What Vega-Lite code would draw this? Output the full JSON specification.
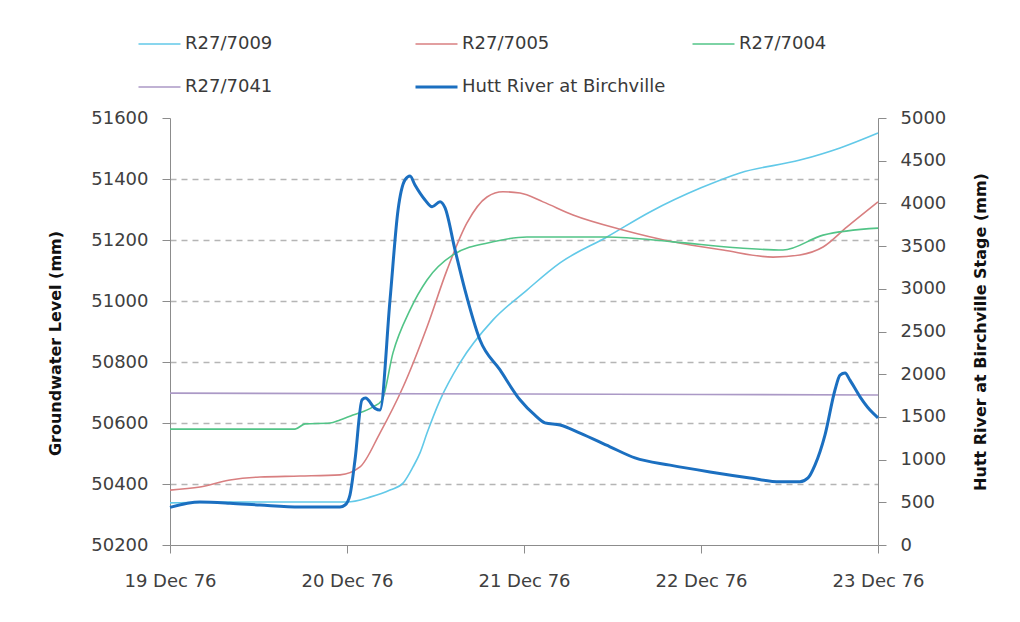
{
  "$schema": "https://vega.github.io/schema/vega-lite/v6.json",
  "width": 708,
  "height": 427,
  "autosize": {"type": "none"},
  "padding": {"left": 170, "top": 118, "right": 142, "bottom": 77},
  "background": "white",
  "config": {
    "view": {"stroke": null},
    "font": "DejaVu Sans",
    "axis": {
      "labelFont": "DejaVu Sans",
      "labelFontSize": 18,
      "labelColor": "#404040",
      "titleFont": "DejaVu Sans",
      "titleFontSize": 16,
      "titleFontWeight": "bold",
      "titleColor": "#111111",
      "domainColor": "#8c8c8c",
      "tickColor": "#8c8c8c",
      "tickSize": 8
    }
  },
  "datasets": {
    "gw": [
      {"s": "R27/7009", "t": "1976-12-19T00:00", "v": 50338},
      {"s": "R27/7009", "t": "1976-12-19T08:08", "v": 50341},
      {"s": "R27/7009", "t": "1976-12-19T17:38", "v": 50341},
      {"s": "R27/7009", "t": "1976-12-20T00:00", "v": 50341},
      {"s": "R27/7009", "t": "1976-12-20T03:07", "v": 50357},
      {"s": "R27/7009", "t": "1976-12-20T05:50", "v": 50380},
      {"s": "R27/7009", "t": "1976-12-20T07:36", "v": 50403},
      {"s": "R27/7009", "t": "1976-12-20T08:57", "v": 50456},
      {"s": "R27/7009", "t": "1976-12-20T09:54", "v": 50502},
      {"s": "R27/7009", "t": "1976-12-20T10:51", "v": 50567},
      {"s": "R27/7009", "t": "1976-12-20T12:37", "v": 50675},
      {"s": "R27/7009", "t": "1976-12-20T15:19", "v": 50797},
      {"s": "R27/7009", "t": "1976-12-20T19:48", "v": 50938},
      {"s": "R27/7009", "t": "1976-12-21T00:24", "v": 51036},
      {"s": "R27/7009", "t": "1976-12-21T04:53", "v": 51125},
      {"s": "R27/7009", "t": "1976-12-21T11:15", "v": 51210},
      {"s": "R27/7009", "t": "1976-12-21T17:05", "v": 51292},
      {"s": "R27/7009", "t": "1976-12-22T00:00", "v": 51371},
      {"s": "R27/7009", "t": "1976-12-22T05:17", "v": 51420},
      {"s": "R27/7009", "t": "1976-12-22T13:25", "v": 51462},
      {"s": "R27/7009", "t": "1976-12-22T18:51", "v": 51502},
      {"s": "R27/7009", "t": "1976-12-23T00:00", "v": 51551},

      {"s": "R27/7005", "t": "1976-12-19T00:00", "v": 50380},
      {"s": "R27/7005", "t": "1976-12-19T04:04", "v": 50390},
      {"s": "R27/7005", "t": "1976-12-19T08:08", "v": 50413},
      {"s": "R27/7005", "t": "1976-12-19T12:12", "v": 50423},
      {"s": "R27/7005", "t": "1976-12-19T17:38", "v": 50426},
      {"s": "R27/7005", "t": "1976-12-19T23:03", "v": 50430},
      {"s": "R27/7005", "t": "1976-12-20T01:46", "v": 50456},
      {"s": "R27/7005", "t": "1976-12-20T04:28", "v": 50567},
      {"s": "R27/7005", "t": "1976-12-20T07:36", "v": 50718},
      {"s": "R27/7005", "t": "1976-12-20T10:51", "v": 50915},
      {"s": "R27/7005", "t": "1976-12-20T13:34", "v": 51102},
      {"s": "R27/7005", "t": "1976-12-20T16:16", "v": 51256},
      {"s": "R27/7005", "t": "1976-12-20T18:59", "v": 51341},
      {"s": "R27/7005", "t": "1976-12-20T21:09", "v": 51358},
      {"s": "R27/7005", "t": "1976-12-20T23:27", "v": 51354},
      {"s": "R27/7005", "t": "1976-12-21T02:35", "v": 51325},
      {"s": "R27/7005", "t": "1976-12-21T06:39", "v": 51282},
      {"s": "R27/7005", "t": "1976-12-21T13:25", "v": 51233},
      {"s": "R27/7005", "t": "1976-12-21T20:12", "v": 51194},
      {"s": "R27/7005", "t": "1976-12-22T02:59", "v": 51167},
      {"s": "R27/7005", "t": "1976-12-22T09:46", "v": 51144},
      {"s": "R27/7005", "t": "1976-12-22T13:25", "v": 51151},
      {"s": "R27/7005", "t": "1976-12-22T16:33", "v": 51177},
      {"s": "R27/7005", "t": "1976-12-22T19:48", "v": 51243},
      {"s": "R27/7005", "t": "1976-12-23T00:00", "v": 51325},

      {"s": "R27/7004", "t": "1976-12-19T00:00", "v": 50580},
      {"s": "R27/7004", "t": "1976-12-19T16:57", "v": 50580},
      {"s": "R27/7004", "t": "1976-12-19T18:18", "v": 50597},
      {"s": "R27/7004", "t": "1976-12-19T21:42", "v": 50600},
      {"s": "R27/7004", "t": "1976-12-19T23:03", "v": 50610},
      {"s": "R27/7004", "t": "1976-12-20T00:49", "v": 50626},
      {"s": "R27/7004", "t": "1976-12-20T03:32", "v": 50653},
      {"s": "R27/7004", "t": "1976-12-20T04:45", "v": 50675},
      {"s": "R27/7004", "t": "1976-12-20T06:14", "v": 50830},
      {"s": "R27/7004", "t": "1976-12-20T08:33", "v": 50971},
      {"s": "R27/7004", "t": "1976-12-20T10:51", "v": 51069},
      {"s": "R27/7004", "t": "1976-12-20T14:22", "v": 51151},
      {"s": "R27/7004", "t": "1976-12-20T19:48", "v": 51194},
      {"s": "R27/7004", "t": "1976-12-21T00:24", "v": 51210},
      {"s": "R27/7004", "t": "1976-12-21T11:15", "v": 51210},
      {"s": "R27/7004", "t": "1976-12-21T20:12", "v": 51194},
      {"s": "R27/7004", "t": "1976-12-22T05:17", "v": 51174},
      {"s": "R27/7004", "t": "1976-12-22T11:07", "v": 51167},
      {"s": "R27/7004", "t": "1976-12-22T16:33", "v": 51216},
      {"s": "R27/7004", "t": "1976-12-23T00:00", "v": 51239},

      {"s": "R27/7041", "t": "1976-12-19T00:00", "v": 50698},
      {"s": "R27/7041", "t": "1976-12-21T00:00", "v": 50695},
      {"s": "R27/7041", "t": "1976-12-23T00:00", "v": 50692}
    ],
    "hutt": [
      {"s": "Hutt River at Birchville", "t": "1976-12-19T00:00", "v": 440},
      {"s": "Hutt River at Birchville", "t": "1976-12-19T04:04", "v": 503},
      {"s": "Hutt River at Birchville", "t": "1976-12-19T08:08", "v": 490},
      {"s": "Hutt River at Birchville", "t": "1976-12-19T12:12", "v": 468},
      {"s": "Hutt River at Birchville", "t": "1976-12-19T17:38", "v": 445},
      {"s": "Hutt River at Birchville", "t": "1976-12-19T23:03", "v": 445},
      {"s": "Hutt River at Birchville", "t": "1976-12-19T23:44", "v": 468},
      {"s": "Hutt River at Birchville", "t": "1976-12-20T00:24", "v": 585},
      {"s": "Hutt River at Birchville", "t": "1976-12-20T01:05", "v": 995},
      {"s": "Hutt River at Birchville", "t": "1976-12-20T02:02", "v": 1700},
      {"s": "Hutt River at Birchville", "t": "1976-12-20T02:30", "v": 1720},
      {"s": "Hutt River at Birchville", "t": "1976-12-20T03:48", "v": 1600},
      {"s": "Hutt River at Birchville", "t": "1976-12-20T04:28", "v": 1580},
      {"s": "Hutt River at Birchville", "t": "1976-12-20T05:50", "v": 2870},
      {"s": "Hutt River at Birchville", "t": "1976-12-20T06:55", "v": 3920},
      {"s": "Hutt River at Birchville", "t": "1976-12-20T07:52", "v": 4275},
      {"s": "Hutt River at Birchville", "t": "1976-12-20T08:33", "v": 4320},
      {"s": "Hutt River at Birchville", "t": "1976-12-20T09:13", "v": 4215},
      {"s": "Hutt River at Birchville", "t": "1976-12-20T10:35", "v": 4040},
      {"s": "Hutt River at Birchville", "t": "1976-12-20T11:32", "v": 3960},
      {"s": "Hutt River at Birchville", "t": "1976-12-20T12:37", "v": 4020},
      {"s": "Hutt River at Birchville", "t": "1976-12-20T13:17", "v": 3950},
      {"s": "Hutt River at Birchville", "t": "1976-12-20T14:39", "v": 3455},
      {"s": "Hutt River at Birchville", "t": "1976-12-20T16:00", "v": 2985},
      {"s": "Hutt River at Birchville", "t": "1976-12-20T18:02", "v": 2400},
      {"s": "Hutt River at Birchville", "t": "1976-12-20T20:45", "v": 2050},
      {"s": "Hutt River at Birchville", "t": "1976-12-20T23:27", "v": 1700},
      {"s": "Hutt River at Birchville", "t": "1976-12-21T01:29", "v": 1520},
      {"s": "Hutt River at Birchville", "t": "1976-12-21T02:51", "v": 1430},
      {"s": "Hutt River at Birchville", "t": "1976-12-21T04:53", "v": 1405},
      {"s": "Hutt River at Birchville", "t": "1976-12-21T07:36", "v": 1310},
      {"s": "Hutt River at Birchville", "t": "1976-12-21T11:40", "v": 1150},
      {"s": "Hutt River at Birchville", "t": "1976-12-21T15:03", "v": 1020},
      {"s": "Hutt River at Birchville", "t": "1976-12-21T19:48", "v": 935},
      {"s": "Hutt River at Birchville", "t": "1976-12-22T01:13", "v": 855},
      {"s": "Hutt River at Birchville", "t": "1976-12-22T06:38", "v": 785},
      {"s": "Hutt River at Birchville", "t": "1976-12-22T10:43", "v": 740},
      {"s": "Hutt River at Birchville", "t": "1976-12-22T13:25", "v": 740},
      {"s": "Hutt River at Birchville", "t": "1976-12-22T14:31", "v": 785},
      {"s": "Hutt River at Birchville", "t": "1976-12-22T15:27", "v": 935},
      {"s": "Hutt River at Birchville", "t": "1976-12-22T16:49", "v": 1290},
      {"s": "Hutt River at Birchville", "t": "1976-12-22T18:10", "v": 1815},
      {"s": "Hutt River at Birchville", "t": "1976-12-22T18:51", "v": 1990},
      {"s": "Hutt River at Birchville", "t": "1976-12-22T19:32", "v": 2015},
      {"s": "Hutt River at Birchville", "t": "1976-12-22T20:12", "v": 1930},
      {"s": "Hutt River at Birchville", "t": "1976-12-22T21:34", "v": 1735},
      {"s": "Hutt River at Birchville", "t": "1976-12-22T22:55", "v": 1580},
      {"s": "Hutt River at Birchville", "t": "1976-12-23T00:00", "v": 1490}
    ]
  },
  "layer": [
    {
      "data": {"name": "gw"},
      "mark": {"type": "line", "strokeWidth": 1.6, "interpolate": "monotone"},
      "encoding": {
        "x": {
          "field": "t", "type": "temporal",
          "scale": {"domain": [{"year": 1976, "month": 12, "date": 19}, {"year": 1976, "month": 12, "date": 23}], "nice": false},
          "axis": {"title": null, "format": "%d %b %y", "tickCount": {"interval": "day", "step": 1}, "grid": false, "labelPadding": 19, "labelFlush": false}
        },
        "y": {
          "field": "v", "type": "quantitative",
          "scale": {"domain": [50200, 51600], "nice": false, "zero": false},
          "axis": {
            "orient": "left",
            "title": "Groundwater Level (mm)",
            "titleY": 225,
            "values": [50200, 50400, 50600, 50800, 51000, 51200, 51400, 51600],
            "format": "d",
            "labelPadding": 14,
            "titlePadding": 27,
            "grid": true,
            "gridDash": [6, 5],
            "gridColor": "#b5b5b5",
            "gridWidth": 1.3,
            "gridOpacity": {"condition": {"test": "datum.value == 50200 || datum.value == 51600", "value": 0}, "value": 1}
          }
        },
        "color": {
          "field": "s", "type": "nominal",
          "scale": {
            "domain": ["R27/7009", "R27/7005", "R27/7004", "R27/7041", "Hutt River at Birchville"],
            "range": ["#62c9e8", "#d87f80", "#52c487", "#ab99c6", "#1b6fc0"]
          },
          "legend": {
            "title": null,
            "orient": "none",
            "direction": "horizontal",
            "legendX": -19.5,
            "legendY": -83,
            "columns": 3,
            "gridAlign": "all",
            "columnPadding": 21,
            "rowPadding": 25,
            "symbolType": "stroke",
            "symbolSize": 1764,
            "symbolStrokeWidth": 1.6,
            "labelFont": "DejaVu Sans",
            "labelFontSize": 18,
            "labelColor": "#3a3a3a",
            "labelOffset": 16.5,
            "labelLimit": 300,
            "encode": {
              "symbols": {"update": {"strokeWidth": {"signal": "datum.value === 'Hutt River at Birchville' ? 3 : 1.6"}}}
            }
          }
        }
      }
    },
    {
      "data": {"name": "hutt"},
      "mark": {"type": "line", "strokeWidth": 3, "interpolate": "monotone"},
      "encoding": {
        "x": {"field": "t", "type": "temporal"},
        "y": {
          "field": "v", "type": "quantitative",
          "scale": {"domain": [0, 5000], "nice": false},
          "axis": {
            "orient": "right",
            "title": "Hutt River at Birchville Stage (mm)",
            "titleAngle": 270,
            "values": [0, 500, 1000, 1500, 2000, 2500, 3000, 3500, 4000, 4500, 5000],
            "format": "d",
            "labelPadding": 14,
            "titlePadding": 43,
            "grid": false
          }
        },
        "color": {"field": "s", "type": "nominal"}
      }
    }
  ],
  "resolve": {"scale": {"y": "independent"}}
}
